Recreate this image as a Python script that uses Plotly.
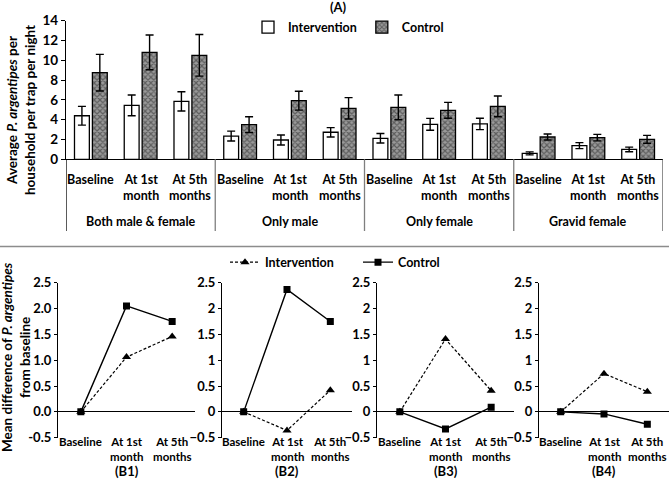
import plotly.graph_objects as go

# (A) average sand fly density per household per trap per night
groups = ["Both male & female", "Only male", "Only female", "Gravid female"]
periods = ["Baseline", "At 1st<br>month", "At 5th<br>months"]
intervention_mean = [4.4, 5.45, 5.85, 2.35, 1.95, 2.73, 2.12, 3.53, 3.57, 0.6, 1.38, 1.0]
intervention_err = [0.95, 1.05, 0.97, 0.5, 0.5, 0.47, 0.48, 0.6, 0.57, 0.15, 0.3, 0.23]
control_mean = [8.75, 10.8, 10.5, 3.5, 5.92, 5.15, 5.25, 4.95, 5.35, 2.25, 2.19, 2.02]
control_err = [1.85, 1.75, 2.1, 0.8, 0.95, 1.08, 1.25, 0.8, 1.05, 0.3, 0.33, 0.4]

# (B1)-(B4) mean difference from baseline
panels = ["(B1)", "(B2)", "(B3)", "(B4)"]
diff_intervention = [
    [0, 1.06, 1.46],
    [0, -0.36, 0.42],
    [0, 1.41, 0.41],
    [0, 0.74, 0.39],
]
diff_control = [
    [0, 2.05, 1.75],
    [0, 2.37, 1.75],
    [0, -0.33, 0.09],
    [0, -0.04, -0.24],
]
b1_ticks = ["-0.5", "0.0", "0.5", "1.0", "1.5", "2.0", "2.5"]

W, H = 669, 486
FONT = "Lato"


def px(v, total):
    return v / total


def py(v):
    return 1 - v / H


fig = go.Figure()

xs = list(range(len(intervention_mean)))
fig.add_trace(go.Bar(
    x=xs, y=intervention_mean, name="Intervention",
    marker=dict(color="white", line=dict(color="black", width=1.3)),
    error_y=dict(type="data", array=intervention_err, color="black", thickness=1.4, width=4),
    legend="legend",
))
fig.add_trace(go.Bar(
    x=xs, y=control_mean, name="Control",
    marker=dict(color="#777777", line=dict(color="black", width=1.3),
                pattern=dict(shape="x", fgcolor="#222222", bgcolor="#9a9a9a", size=4, solidity=0.5)),
    error_y=dict(type="data", array=control_err, color="black", thickness=1.4, width=4),
    legend="legend",
))

annotations = []
shapes = []

# category and group labels under the top chart
for i in xs:
    annotations.append(dict(
        x=i, y=py(170), xref="x", yref="paper", text=periods[i % 3],
        showarrow=False, yanchor="top", font=dict(size=12.5),
    ))
for g, name in enumerate(groups):
    annotations.append(dict(
        x=g * 3 + 1, y=py(221), xref="x", yref="paper", text=name,
        showarrow=False, yanchor="middle", font=dict(size=12.5),
    ))
    shapes.append(dict(
        type="line", xref="x", yref="paper", x0=g * 3 + 2.5, x1=g * 3 + 2.5,
        y0=py(159.3), y1=py(231), line=dict(color="#7f7f7f" if g < 3 else "#555555", width=1.3),
    ))
shapes.append(dict(
    type="line", xref="x", yref="paper", x0=-0.5, x1=-0.5,
    y0=py(159.3), y1=py(231), line=dict(color="black", width=1.3),
))

# separator between (A) and (B)
shapes.append(dict(type="line", xref="paper", yref="paper", x0=0, x1=1,
                   y0=py(246.5), y1=py(246.5), line=dict(color="#8c8c8c", width=1.3)))

layout = dict(
    width=W, height=H,
    margin=dict(l=0, r=0, t=0, b=0, autoexpand=False),
    paper_bgcolor="white", plot_bgcolor="white",
    font=dict(family=FONT, size=12.5, color="black", weight="bold"),
    barmode="group", bargap=0.28, bargroupgap=0.17,
    xaxis=dict(domain=[px(66, W), px(663, W)], range=[-0.5, 11.5],
               showticklabels=False, ticks="", showline=True, linecolor="black",
               linewidth=1.3, showgrid=False, zeroline=False, automargin=False),
    yaxis=dict(domain=[py(159.3), py(20.7)], range=[0, 14], dtick=2,
               showline=True, linecolor="black", linewidth=1.3,
               ticks="outside", ticklen=4, tickcolor="black", automargin=False,
               showgrid=False, zeroline=False, tickfont=dict(size=13.5)),
    legend=dict(orientation="h", x=px(248, W), y=py(27.5), xanchor="left", yanchor="middle",
                font=dict(size=12.5), bgcolor="rgba(0,0,0,0)", itemwidth=30,
                tracegroupgap=0),
    legend2=dict(orientation="h", x=px(225, W), y=py(262.5), xanchor="left", yanchor="middle",
                 font=dict(size=12.5), bgcolor="rgba(0,0,0,0)",
                 entrywidth=88, entrywidthmode="pixels"),
    showlegend=True,
)

# (B) panels
x_domains = [(58, 195), (222, 352), (377, 514), (539, 669)]
for k in range(4):
    n = k + 2
    xa, ya = f"x{n}", f"y{n}"
    first = k == 0
    fig.add_trace(go.Scatter(
        x=[0, 1, 2], y=diff_intervention[k], xaxis=xa, yaxis=ya, mode="lines+markers",
        name="Intervention", line=dict(color="black", width=1.2, dash="3px,2px"),
        marker=dict(symbol="triangle-up", size=8, color="black"),
        showlegend=first, legend="legend2",
    ))
    fig.add_trace(go.Scatter(
        x=[0, 1, 2], y=diff_control[k], xaxis=xa, yaxis=ya, mode="lines+markers",
        name="Control", line=dict(color="black", width=1.4),
        marker=dict(symbol="square", size=7, color="black"),
        showlegend=first, legend="legend2",
    ))
    d0, d1 = x_domains[k]
    layout[f"xaxis{n}"] = dict(
        domain=[px(d0, W), px(d1, W)], range=[-0.5, 2.5], anchor=ya,
        showticklabels=False, ticks="", showline=False, automargin=False,
        showgrid=False, zeroline=False,
    )
    for j, lab in enumerate(periods):
        annotations.append(dict(
            x=j, y=py(433), xref=xa, yref="paper", text=lab,
            showarrow=False, yanchor="top", font=dict(size=11.5),
        ))
    yax = dict(
        domain=[py(437.7), py(282.7)], range=[-0.5, 2.5], anchor=xa,
        tickvals=[-0.5, 0, 0.5, 1, 1.5, 2, 2.5],
        showline=True, linecolor="black", linewidth=1.2, automargin=False,
        ticks="outside", ticklen=3, tickcolor="black",
        showgrid=False, zeroline=True, zerolinecolor="black", zerolinewidth=1.3,
        tickfont=dict(size=13),
    )
    if first:
        yax["ticktext"] = b1_ticks
    layout[f"yaxis{n}"] = yax
    annotations.append(dict(
        x=1, y=py(471), xref=xa, yref="paper", text=panels[k],
        showarrow=False, yanchor="middle", font=dict(size=13),
    ))

# titles
annotations.append(dict(x=px(338, W), y=py(7), xref="paper", yref="paper", text="(A)",
                        showarrow=False, xanchor="center", yanchor="middle", font=dict(size=13)))
annotations.append(dict(x=px(21, W), y=py(110), xref="paper", yref="paper",
                        text="Average <i>P. argentipes</i> per<br>household per trap per night",
                        textangle=-90, showarrow=False, xanchor="center", yanchor="middle",
                        font=dict(size=13.5)))
annotations.append(dict(x=px(16, W), y=py(357), xref="paper", yref="paper",
                        text="Mean difference of <i>P. argentipes</i><br>from baseline",
                        textangle=-90, showarrow=False, xanchor="center", yanchor="middle",
                        font=dict(size=13.5)))

layout["annotations"] = annotations
layout["shapes"] = shapes
fig.update_layout(**layout)

fig.write_html("out.html", config={"displayModeBar": False},
               post_script="document.body.style.margin='0';")
